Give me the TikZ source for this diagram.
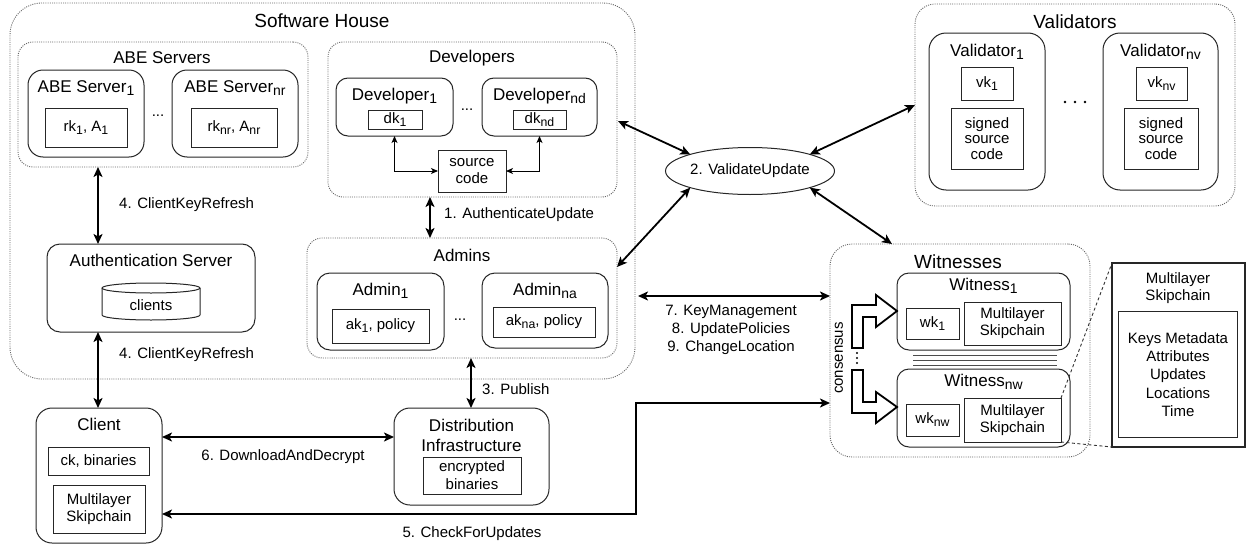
\documentclass[tikz,border=0pt]{standalone}
\usepackage{fontspec}
\usepackage{graphicx}
\setmainfont{Liberation Sans}
\usetikzlibrary{arrows.meta,shapes.geometric}
\newcommand{\sbs}[1]{\raisebox{-0.38ex}{\scalebox{0.82}{#1}}}
\newcommand{\fsA}{\fontsize{15}{18}\selectfont}
\newcommand{\fsB}{\fontsize{17}{20}\selectfont}
\newcommand{\fsC}{\fontsize{19}{22}\selectfont}
\tikzset{
 grp/.style={draw=black!60, line width=0.9pt, dash pattern=on 1pt off 1.2pt, rounded corners=15pt, inner sep=0pt, outer sep=0pt},
 rbox/.style={draw=black!85, line width=1pt, rounded corners=13pt, inner sep=0pt, outer sep=0pt, fill=white},
 ibox/.style={draw=black!85, line width=1pt, inner sep=0pt, outer sep=0pt, align=center, font=\fsA},
 lbl/.style={inner sep=0pt, font=\fsA, align=center},
 ttl/.style={inner sep=0pt, font=\fsB, align=center},
 big/.style={inner sep=0pt, font=\fsC},
 dbl/.style={line width=1.8pt, {Stealth[length=10pt,width=9pt,inset=2.5pt]}-{Stealth[length=10pt,width=9pt,inset=2.5pt]}},
 thinar/.style={line width=1pt, {Stealth[length=7pt,width=6pt,inset=1.8pt]}-{Stealth[length=7pt,width=6pt,inset=1.8pt]}},
 blk/.style={draw=black, line width=1.8pt, fill=white, line join=miter},
}
\begin{document}
\begin{tikzpicture}[x=1pt,y=-1pt]
\useasboundingbox (0,0) rectangle (1247,546);

% ---------- Software House ----------
\node[grp, rounded corners=32pt, minimum width=625pt, minimum height=376pt] (sh) at (322.5,191) {};
\node[big] (shl) at (322,21) {Software House};

% ABE servers
\node[grp, minimum width=290pt, minimum height=125pt] (abes) at (163,104.5) {};
\node[ttl] (abesl) at (162,58) {ABE Servers};
\node[rbox, rounded corners=15pt, minimum width=116pt, minimum height=87pt] (abe1) at (86,113.5) {};
\node[ttl] (abe1l) at (86,88) {ABE Server\sbs{1}};
\node[ibox, minimum width=82pt, minimum height=39pt] (rk1) at (86,127.5) {rk\sbs{1}, A\sbs{1}};
\node[lbl] (abedots) at (158,116) {...};
\node[rbox, rounded corners=15pt, minimum width=126pt, minimum height=87pt] (aben) at (235,113.5) {};
\node[ttl] (abenl) at (235,88) {ABE Server\sbs{nr}};
\node[ibox, minimum width=86pt, minimum height=39pt] (rkn) at (234,127.5) {rk\sbs{nr}, A\sbs{nr}};

% Developers
\node[grp, minimum width=289pt, minimum height=155pt] (devs) at (472.5,119.5) {};
\node[ttl] (devsl) at (472,58) {Developers};
\node[rbox, rounded corners=12pt, minimum width=117pt, minimum height=58pt] (dev1) at (394.5,107) {};
\node[ttl] (dev1l) at (394.5,96) {Developer\sbs{1}};
\node[ibox, minimum width=54pt, minimum height=19pt] (dk1) at (395,119.5) {dk\sbs{1}};
\node[lbl] (devdots) at (467,110) {...};
\node[rbox, rounded corners=12pt, minimum width=115pt, minimum height=58pt] (devn) at (539.5,107) {};
\node[ttl] (devnl) at (539.5,96) {Developer\sbs{nd}};
\node[ibox, minimum width=53pt, minimum height=19pt] (dkn) at (539.5,119.5) {dk\sbs{nd}};
\node[ibox, minimum width=68pt, minimum height=42pt, font=\fontsize{15}{17}\selectfont] (src) at (472,171) {source\\code};
\draw[thinar] (dev1.south) |- (src.west);
\draw[thinar] (devn.south) |- (src.east);

% Admins
\node[grp, minimum width=310pt, minimum height=120pt] (admins) at (462,298) {};
\node[ttl] (adminsl) at (462,255) {Admins};
\node[rbox, rounded corners=13pt, minimum width=127pt, minimum height=77pt] (adm1) at (380.5,311.5) {};
\node[ttl] (adm1l) at (380.5,291) {Admin\sbs{1}};
\node[ibox, minimum width=97pt, minimum height=34pt] (ak1) at (380.5,326) {ak\sbs{1}, policy};
\node[lbl] (admdots) at (460,320) {...};
\node[rbox, rounded corners=13pt, minimum width=126pt, minimum height=75pt] (admn) at (545,310.5) {};
\node[ttl] (admnl) at (545,291) {Admin\sbs{na}};
\node[ibox, minimum width=102pt, minimum height=30pt] (akn) at (544,322) {ak\sbs{na}, policy};

% Authentication server
\node[rbox, rounded corners=13pt, minimum width=208pt, minimum height=88pt] (auth) at (151,288) {};
\node[ttl] (authl) at (151,260) {Authentication Server};
\fill[white] (102,288) -- (102,315) arc[start angle=180,end angle=0,x radius=49,y radius=5] -- (200,288) -- cycle;
\draw[line width=1pt, black!85] (151,288) ellipse [x radius=49, y radius=5];
\draw[line width=1pt, black!85] (102,288) -- (102,315) arc[start angle=180,end angle=0,x radius=49,y radius=5] -- (200,288);
\node[lbl] (clients) at (151,305) {clients};

% Client
\node[rbox, rounded corners=16pt, minimum width=126pt, minimum height=135pt] (client) at (99,475.5) {};
\node[ttl] (clientl) at (99,424) {Client};
\node[ibox, minimum width=101pt, minimum height=28pt] (ckb) at (98.5,461) {ck, binaries};
\node[ibox, minimum width=92pt, minimum height=48pt, font=\fontsize{15}{17}\selectfont] (cml) at (99,509) {Multilayer\\Skipchain};

% Distribution
\node[rbox, rounded corners=16pt, minimum width=155pt, minimum height=97pt] (dist) at (471.5,456.5) {};
\node[ttl] (distl) at (471.5,435) {Distribution\\Infrastructure};
\node[ibox, minimum width=98pt, minimum height=37pt, font=\fontsize{15}{18}\selectfont] (encb) at (472,475.5) {encrypted\\binaries};

% Validate update
\node[ellipse, draw=black!85, line width=1pt, minimum width=157pt, minimum height=47pt, inner sep=0pt, outer sep=0pt, font=\fsA] (vu) at (750,171) {2. ValidateUpdate};

% Validators
\node[grp, rounded corners=20pt, minimum width=320pt, minimum height=202pt] (vals) at (1075,105) {};
\node[big] (valsl) at (1075,22) {Validators};
\node[rbox, rounded corners=17pt, minimum width=116pt, minimum height=157pt] (val1) at (987,111.5) {};
\node[ttl] (val1l) at (987,52) {Validator\sbs{1}};
\node[ibox, minimum width=52pt, minimum height=33pt] (vk1) at (987,83.5) {vk\sbs{1}};
\node[ibox, minimum width=72pt, minimum height=61pt, font=\fontsize{15}{15.5}\selectfont] (ss1) at (987,138.5) {signed\\source\\code};
\fill (1065,102) circle (1.4) (1075,102) circle (1.4) (1085,102) circle (1.4);
\node[rbox, rounded corners=17pt, minimum width=115pt, minimum height=157pt] (valn) at (1160.5,111.5) {};
\node[ttl] (valnl) at (1160.5,52) {Validator\sbs{nv}};
\node[ibox, minimum width=51pt, minimum height=33pt] (vkn) at (1161.5,83.5) {vk\sbs{nv}};
\node[ibox, minimum width=74pt, minimum height=61pt, font=\fontsize{15}{15.5}\selectfont] (ssn) at (1161,138.5) {signed\\source\\code};

% Witnesses
\node[grp, rounded corners=22pt, minimum width=260pt, minimum height=213pt] (wits) at (960,350.5) {};
\node[big] (witsl) at (958,262) {Witnesses};
\node[rbox, rounded corners=12pt, minimum width=173pt, minimum height=77pt] (wit1) at (983.5,311.5) {};
\node[ttl] (wit1l) at (983.5,286) {Witness\sbs{1}};
\node[ibox, minimum width=53pt, minimum height=31pt] (wk1) at (932.5,323.5) {wk\sbs{1}};
\node[ibox, minimum width=97pt, minimum height=43pt, font=\fontsize{15}{17}\selectfont] (wml1) at (1012.5,323.5) {Multilayer\\Skipchain};
\foreach \yy in {355,360,365} \draw[line width=1pt, black!70] (913,\yy) -- (1057,\yy);
\node[rbox, rounded corners=12pt, minimum width=173pt, minimum height=78pt] (witn) at (983.5,408) {};
\node[ttl] (witnl) at (983.5,382) {Witness\sbs{nw}};
\node[ibox, minimum width=53pt, minimum height=32pt] (wkn) at (932.5,420) {wk\sbs{nw}};
\node[ibox, minimum width=97pt, minimum height=44pt, font=\fontsize{15}{17}\selectfont] (wmln) at (1012.5,420) {Multilayer\\Skipchain};
% consensus block arrows
\draw[blk] (852,348) -- (852,305) -- (876,305) -- (876,295) -- (897,311) -- (876,327) -- (876,317) -- (863,317) -- (863,348) -- cycle;
\draw[blk] (852,370) -- (852,413) -- (876,413) -- (876,423) -- (897,407) -- (876,392) -- (876,402) -- (863,402) -- (863,370) -- cycle;
\fill (857,353) circle (1.1) (857,358) circle (1.1) (857,363) circle (1.1);
\node[lbl, rotate=90] (cons) at (839,358) {consensus};

% Detail box
\node[draw=black!85, line width=1.3pt, minimum width=133pt, minimum height=184pt, inner sep=0pt, outer sep=0pt] (det) at (1178.5,355) {};
\node[lbl, font=\fontsize{15}{17}\selectfont] (detl) at (1178,288.5) {Multilayer\\Skipchain};
\node[ibox, minimum width=119pt, minimum height=126pt, font=\fontsize{15}{18.3}\selectfont] (deti) at (1177.5,374) {};
\node[lbl, font=\fontsize{15}{18.3}\selectfont] (detlist) at (1178,374.5) {Keys Metadata\\Attributes\\Updates\\Locations\\Time};
\draw[line width=0.9pt, dash pattern=on 3pt off 2.5pt, black!80] (wmln.north east) -- (det.north west);
\draw[line width=0.9pt, dash pattern=on 3pt off 2.5pt, black!80] (wmln.south east) -- (det.south west);

% ---------- connectors ----------
\coordinate (xk) at (98,0);
\coordinate (xa) at (430,0);
\coordinate (xp) at (471,0);
\coordinate (y6) at (0,437);
\coordinate (y7) at (0,296);
\coordinate (y5a) at (0,403);
\coordinate (y5b) at (0,514);
\coordinate (x5) at (636,0);
\coordinate (yd) at (0,121);
\coordinate (ya) at (0,267);
\coordinate (xw) at (892,0);

\draw[dbl] (abes.south -| xk) -- (auth.north -| xk);
\draw[dbl] (auth.south -| xk) -- (client.north -| xk);
\draw[dbl] (devs.south -| xa) -- (admins.north -| xa);
\draw[dbl] (admins.south -| xp) -- (dist.north -| xp);
\draw[dbl] (client.east |- y6) -- (dist.west |- y6);
\draw[dbl] ([xshift=3pt]sh.east |- y7) -- (wits.west |- y7);
\draw[dbl] (wits.west |- y5a) -- (x5 |- y5a) -- (x5 |- y5b) -- (client.east |- y5b);
\draw[dbl] ([xshift=1pt]devs.east |- yd) -- (vu.north west);
\draw[dbl] (admins.east |- ya) -- (vu.south west);
\draw[dbl] (vu.north east) -- (vals.west);
\draw[dbl] (vu.south east) -- (wits.north -| xw);

% edge labels
\node[lbl, anchor=west] (l1) at (444,215) {1. AuthenticateUpdate};
\node[lbl, anchor=west] (l4a) at (119,205) {4. ClientKeyRefresh};
\node[lbl, anchor=west] (l4b) at (119,355) {4. ClientKeyRefresh};
\node[lbl, anchor=west] (l3) at (482,389) {3. Publish};
\node[lbl] (l6) at (283,457) {6. DownloadAndDecrypt};
\node[lbl] (l5) at (472,534) {5. CheckForUpdates};
\node[lbl] (l789) at (731,330) {7. KeyManagement\\8. UpdatePolicies\\9. ChangeLocation};
\end{tikzpicture}
\end{document}
